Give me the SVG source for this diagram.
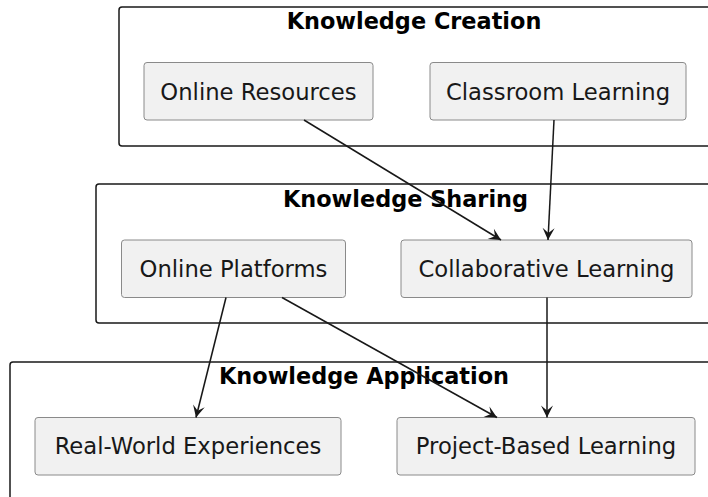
<svg xmlns="http://www.w3.org/2000/svg" width="708" height="497" viewBox="0 0 708 497">
<style>
.cl{fill:none;stroke:#181818;stroke-width:1.5}
.ct{font-family:"DejaVu Sans",sans-serif;font-weight:bold;font-size:22.4px;fill:#000;text-anchor:middle}
.nd{fill:#F1F1F1;stroke:#8a8a8a;stroke-width:1}
.nt{font-family:"DejaVu Sans",sans-serif;font-size:22.7px;fill:#181818;text-anchor:middle}
.ed{stroke:#181818;stroke-width:1.5;fill:none;marker-end:url(#ah)}
</style>
<defs>
<marker id="ah" markerUnits="userSpaceOnUse" viewBox="-14 -8 16 16" refX="0" refY="0" markerWidth="16" markerHeight="16" orient="auto">
<path d="M0,0 L-12,-6 L-7,0 L-12,6 Z" fill="#181818"/>
</marker>
</defs>
<g id="cluster-creation">
<rect class="cl" x="119" y="7" width="600" height="139" rx="3"/>
<text class="ct" x="414" y="29">Knowledge Creation</text>
</g>
<g id="cluster-sharing">
<rect class="cl" x="96" y="184" width="630" height="139" rx="3"/>
<text class="ct" x="405.5" y="207">Knowledge Sharing</text>
</g>
<g id="cluster-application">
<rect class="cl" x="10" y="362" width="720" height="160" rx="3"/>
<text class="ct" x="364" y="384">Knowledge Application</text>
</g>
<g id="online-resources">
<rect class="nd" x="144" y="62.5" width="229" height="57.5" rx="3"/>
<text class="nt" x="258.5" y="99.5">Online Resources</text>
</g>
<g id="classroom-learning">
<rect class="nd" x="430" y="62.5" width="256" height="57.5" rx="3"/>
<text class="nt" x="558" y="99.5">Classroom Learning</text>
</g>
<g id="online-platforms">
<rect class="nd" x="121.5" y="240" width="224" height="57.5" rx="3"/>
<text class="nt" x="233.5" y="277">Online Platforms</text>
</g>
<g id="collaborative-learning">
<rect class="nd" x="401" y="240" width="291" height="57.5" rx="3"/>
<text class="nt" x="546.5" y="277">Collaborative Learning</text>
</g>
<g id="real-world-experiences">
<rect class="nd" x="35" y="417.5" width="306" height="57.5" rx="3"/>
<text class="nt" x="188" y="454">Real-World Experiences</text>
</g>
<g id="project-based-learning">
<rect class="nd" x="397" y="417.5" width="298" height="57.5" rx="3"/>
<text class="nt" x="546" y="454">Project-Based Learning</text>
</g>
<g id="connectors">
<line class="ed" x1="304" y1="120" x2="501" y2="240"/>
<line class="ed" x1="554" y1="120" x2="548" y2="240"/>
<line class="ed" x1="226" y1="297.5" x2="196" y2="417.5"/>
<line class="ed" x1="282" y1="297.5" x2="497" y2="417.5"/>
<line class="ed" x1="547" y1="297.5" x2="547" y2="417.5"/>
</g>
</svg>
